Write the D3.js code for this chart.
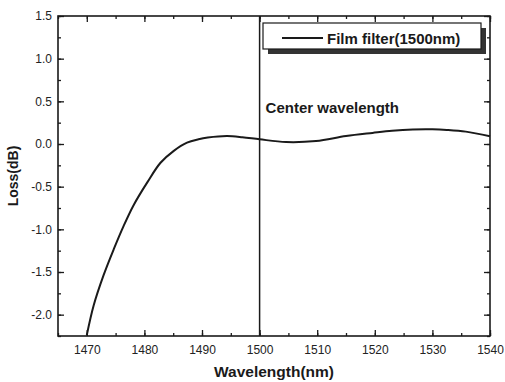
<!DOCTYPE html>
<html>
<head>
<meta charset="utf-8">
<script src="https://cdn.jsdelivr.net/npm/d3@7"></script>
<style>
  body { margin: 0; background: #fff; }
  svg { font-family: "Liberation Sans", Arial, sans-serif; }
  .tick text { fill: #222; }
</style>
</head>
<body>
<div class="chart"></div>
<script>
// values
var wavelength = [1470, 1471.2, 1472.9, 1474.7, 1476.4, 1478.1, 1480.5, 1482.8, 1485.1, 1487.4, 1489.4, 1491,
                  1494.3, 1497, 1500, 1504.6, 1509.8, 1515, 1519.6, 1523, 1526.6, 1530, 1532.5, 1535.8, 1540];
var loss = [-2.24, -1.89, -1.54, -1.23, -0.96, -0.72, -0.45, -0.22, -0.08, 0.016, 0.055, 0.075,
            0.093, 0.08, 0.055, 0.023, 0.035, 0.093, 0.13, 0.155, 0.17, 0.172, 0.165, 0.145, 0.09];
var xTicks = [1470, 1480, 1490, 1500, 1510, 1520, 1530, 1540];
var yTicks = [-2.0, -1.5, -1.0, -0.5, 0.0, 0.5, 1.0, 1.5];
var centerWavelength = 1500;
var legendLabel = "Film filter(1500nm)";

var margin = {top: 16, right: 15, bottom: 46, left: 58},
    width = 505 - margin.left - margin.right,
    height = 382 - margin.top - margin.bottom;

var svg = d3.select(".chart")
    .append("svg")
    .attr("width", 505)
    .attr("height", 382)
  .append("g")
    .attr("transform", "translate(" + margin.left + "," + margin.top + ")");

var x = d3.scaleLinear().domain([1465, 1540]).range([0, width]);
var y = d3.scaleLinear().domain([-2.25, 1.5]).range([height, 0]);

var ink = "#1a1a1a";

// plain hyphen minus like the original
var yFmt = function(d) { return d.toFixed(1).replace("\u2212", "-"); };

// minor ticks (inward) on all four sides
var xMinor = d3.range(1465, 1541, 5);
var yMinor = d3.range(-2.25, 1.51, 0.25);

function tickAxis(axis, scale, vals, len) {
  return axis(scale).tickValues(vals).tickSize(len).tickFormat("");
}

svg.append("g").attr("transform", "translate(0," + height + ")")
  .call(tickAxis(d3.axisTop, x, xMinor, 3));
svg.append("g").call(tickAxis(d3.axisBottom, x, xMinor, 3));
svg.append("g").call(tickAxis(d3.axisRight, y, yMinor, 3));
svg.append("g").attr("transform", "translate(" + width + ",0)")
  .call(tickAxis(d3.axisLeft, y, yMinor, 3));

// major ticks
svg.append("g").attr("transform", "translate(0," + height + ")")
  .call(tickAxis(d3.axisTop, x, xTicks, 6));
svg.append("g").call(tickAxis(d3.axisBottom, x, xTicks, 6));
svg.append("g").call(tickAxis(d3.axisRight, y, yTicks, 6));
svg.append("g").attr("transform", "translate(" + width + ",0)")
  .call(tickAxis(d3.axisLeft, y, yTicks, 6));

svg.selectAll(".domain").remove();
svg.selectAll(".tick line").attr("stroke", ink).attr("stroke-width", 1.3);

// tick labels
var xLab = svg.append("g")
    .attr("transform", "translate(0," + height + ")")
    .call(d3.axisBottom(x).tickValues(xTicks).tickSize(0).tickPadding(9).tickFormat(d3.format("d")));
xLab.select(".domain").remove();
xLab.selectAll("text").attr("font-size", 12).attr("font-family", "Liberation Sans, Arial");

var yLab = svg.append("g")
    .call(d3.axisLeft(y).tickValues(yTicks).tickSize(0).tickPadding(6).tickFormat(yFmt));
yLab.select(".domain").remove();
yLab.selectAll("text").attr("font-size", 12).attr("font-family", "Liberation Sans, Arial");

// frame
svg.append("rect")
  .attr("width", width).attr("height", height)
  .attr("fill", "none").attr("stroke", ink).attr("stroke-width", 1.6);

// center wavelength marker
svg.append("line")
  .attr("x1", x(centerWavelength)).attr("x2", x(centerWavelength))
  .attr("y1", 0).attr("y2", height)
  .attr("stroke", ink).attr("stroke-width", 1.5);

svg.append("text")
  .attr("x", x(centerWavelength) + 6).attr("y", 97)
  .attr("font-size", 15).attr("font-weight", "bold").attr("fill", ink)
  .text("Center wavelength");

// curve
var line = d3.line()
  .x(function(d, i) { return x(wavelength[i]); })
  .y(function(d) { return y(d); })
  .curve(d3.curveCatmullRom.alpha(0.5));

svg.append("path")
  .datum(loss)
  .attr("d", line)
  .attr("fill", "none")
  .attr("stroke", ink)
  .attr("stroke-width", 2);

// legend with drop shadow
var lg = svg.append("g").attr("transform", "translate(205,7)");
lg.append("rect").attr("x", 5).attr("y", 5).attr("width", 218).attr("height", 26).attr("fill", "#333");
lg.append("rect").attr("width", 218).attr("height", 26)
  .attr("fill", "#fff").attr("stroke", ink).attr("stroke-width", 1.2);
lg.append("line").attr("x1", 19).attr("x2", 60).attr("y1", 15).attr("y2", 15)
  .attr("stroke", ink).attr("stroke-width", 2);
lg.append("text").attr("x", 64).attr("y", 20.5)
  .attr("font-size", 15).attr("font-weight", "bold").attr("fill", ink)
  .text(legendLabel);

// axis titles
svg.append("text")
  .attr("x", width / 2).attr("y", height + 41)
  .attr("text-anchor", "middle")
  .attr("font-size", 15.5).attr("font-weight", "bold").attr("fill", ink)
  .text("Wavelength(nm)");

svg.append("text")
  .attr("transform", "translate(-40," + (height / 2) + ") rotate(-90)")
  .attr("text-anchor", "middle")
  .attr("font-size", 14).attr("font-weight", "bold").attr("fill", ink)
  .text("Loss(dB)");
</script>
</body>
</html>
